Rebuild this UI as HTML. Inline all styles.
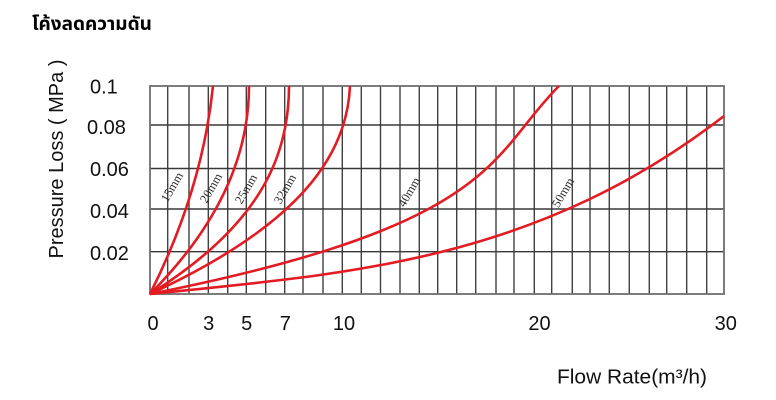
<!DOCTYPE html>
<html>
<head>
<meta charset="utf-8">
<style>
  html, body { margin: 0; padding: 0; background: #ffffff; }
  body { width: 776px; height: 400px; overflow: hidden; }
  svg { display: block; }
  .t { font-family: "Liberation Sans", "Noto Sans CJK SC", sans-serif; fill: #111; }
  .lab { font-family: "Liberation Serif", "DejaVu Serif", serif; font-size: 12.5px; fill: #2a2a2a; }
</style>
</head>
<body>
<svg width="776" height="400" viewBox="0 0 776 400" xmlns="http://www.w3.org/2000/svg">
  <rect x="0" y="0" width="776" height="400" fill="#ffffff"/>

  <!-- Title -->
  <text x="32" y="30" font-family="'Liberation Sans', 'Noto Sans Thai', 'Noto Sans CJK SC', sans-serif" font-size="19" font-weight="bold" fill="#000">โค้งลดความดัน</text>

  <!-- Grid: vertical lines -->
  <g stroke="#404040" stroke-width="1.4">
    <line x1="167.7" y1="86" x2="167.7" y2="294"/>
    <line x1="189" y1="86" x2="189" y2="294"/>
    <line x1="208.3" y1="86" x2="208.3" y2="294"/>
    <line x1="227.7" y1="86" x2="227.7" y2="294"/>
    <line x1="246.3" y1="86" x2="246.3" y2="294"/>
    <line x1="265.7" y1="86" x2="265.7" y2="294"/>
    <line x1="284.7" y1="86" x2="284.7" y2="294"/>
    <line x1="303" y1="86" x2="303" y2="294"/>
    <line x1="323" y1="86" x2="323" y2="294"/>
    <line x1="342.3" y1="86" x2="342.3" y2="294"/>
    <line x1="361.3" y1="86" x2="361.3" y2="294"/>
    <line x1="380.5" y1="86" x2="380.5" y2="294"/>
    <line x1="400" y1="86" x2="400" y2="294"/>
    <line x1="419.3" y1="86" x2="419.3" y2="294"/>
    <line x1="437.7" y1="86" x2="437.7" y2="294"/>
    <line x1="456.7" y1="86" x2="456.7" y2="294"/>
    <line x1="475.7" y1="86" x2="475.7" y2="294"/>
    <line x1="496" y1="86" x2="496" y2="294"/>
    <line x1="514" y1="86" x2="514" y2="294"/>
    <line x1="534.3" y1="86" x2="534.3" y2="294"/>
    <line x1="551.7" y1="86" x2="551.7" y2="294"/>
    <line x1="572.3" y1="86" x2="572.3" y2="294"/>
    <line x1="590" y1="86" x2="590" y2="294"/>
    <line x1="609.3" y1="86" x2="609.3" y2="294"/>
    <line x1="629.3" y1="86" x2="629.3" y2="294"/>
    <line x1="649.3" y1="86" x2="649.3" y2="294"/>
    <line x1="666.7" y1="86" x2="666.7" y2="294"/>
    <line x1="686.7" y1="86" x2="686.7" y2="294"/>
    <line x1="706.7" y1="86" x2="706.7" y2="294"/>
  </g>
  <!-- Grid: horizontal lines -->
  <g stroke="#383838" stroke-width="1.4">
    <line x1="150" y1="125" x2="724" y2="125"/>
    <line x1="150" y1="168.5" x2="724" y2="168.5"/>
    <line x1="150" y1="209" x2="724" y2="209"/>
    <line x1="150" y1="251.7" x2="724" y2="251.7"/>
  </g>
  <!-- Outer border -->
  <rect x="150" y="86" width="574" height="208" fill="none" stroke="#6e6e6e" stroke-width="1.8"/>

  <!-- Curves -->
  <g fill="none" stroke="#e31b23" stroke-width="2.6" stroke-linejoin="round">
    <!-- 15mm -->
    <path d="M150,294 Q202.3,190 213,86"/>
    <!-- 20mm -->
    <path d="M150,294 C219.3,224.67 249,155.33 249,86"/>
    <!-- 25mm -->
    <path d="M150,294 C261.2,224.67 289,155.33 289,86"/>
    <!-- 32mm -->
    <path d="M150,294 C300,224.67 347,155.33 350,86"/>
    <!-- 40mm -->
    <path d="M150,294 C499.7,224.67 489.5,155.33 559,86"/>
    <!-- 50mm -->
    <path d="M150,294 C341.3,274 532.7,264 724,116"/>
  </g>

  <!-- Curve labels -->
  <text class="lab" text-anchor="middle" dominant-baseline="central" transform="translate(172,187) rotate(-60)">15mm</text>
  <text class="lab" text-anchor="middle" dominant-baseline="central" transform="translate(211,188) rotate(-60)">20mm</text>
  <text class="lab" text-anchor="middle" dominant-baseline="central" transform="translate(246,189) rotate(-60)">25mm</text>
  <text class="lab" text-anchor="middle" dominant-baseline="central" transform="translate(285,189) rotate(-60)">32mm</text>
  <text class="lab" text-anchor="middle" dominant-baseline="central" transform="translate(409,192) rotate(-60)">40mm</text>
  <text class="lab" text-anchor="middle" dominant-baseline="central" transform="translate(563,192.5) rotate(-60)">50mm</text>

  <!-- Y tick labels -->
  <g class="t" font-size="20">
    <text x="90" y="93.5">0.1</text>
    <text x="87" y="134">0.08</text>
    <text x="90" y="176">0.06</text>
    <text x="90" y="218">0.04</text>
    <text x="90" y="260">0.02</text>
  </g>

  <!-- X tick labels -->
  <g class="t" font-size="20" text-anchor="middle">
    <text x="153" y="330">0</text>
    <text x="208.7" y="330">3</text>
    <text x="246.7" y="330">5</text>
    <text x="285.3" y="330">7</text>
    <text x="344" y="330">10</text>
    <text x="539.5" y="330">20</text>
    <text x="725.8" y="330">30</text>
  </g>

  <!-- Axis titles -->
  <text class="t" font-size="20" text-anchor="middle" transform="translate(63,159) rotate(-90)">Pressure Loss ( MPa )</text>
  <text class="t" font-size="20" x="557" y="383.5" textLength="150" lengthAdjust="spacingAndGlyphs">Flow Rate(m³/h)</text>
</svg>
</body>
</html>
